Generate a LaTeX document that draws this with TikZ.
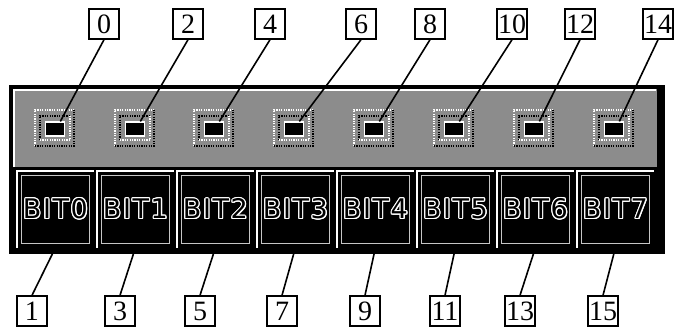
\documentclass[tikz,border=0pt]{standalone}
\usepackage{fontspec}
\usepackage{xcolor}
\usepackage{tikz}
\usepackage{contour}
\usetikzlibrary{arrows.meta}
\setmainfont{Liberation Serif}
\newfontfamily\Bitschrift[LetterSpace=6]{DejaVu Sans}
\contourlength{0.55pt}
\definecolor{feldgrau}{gray}{0.55}
\tikzset{
  kasten/.style={draw,line width=0.7pt,inner sep=0.5pt,minimum width=15pt,minimum height=15pt,font=\fontsize{14}{14}\selectfont},
  zeiger/.style={line width=0.8pt},
  punkte/.style={line width=1pt,dash pattern=on 0.6pt off 0.6pt},
  lampe/.style={draw=white,fill=black,line width=0.6pt,minimum width=9.5pt,minimum height=7pt,inner sep=0pt},
  taste/.style={fill=black,text=black,minimum width=38pt,minimum height=38pt,inner sep=0pt,font=\Bitschrift\fontsize{13.5}{13.5}\selectfont}
}
% Leuchtfeld: #1 Name, #2 Mitte x
\newcommand{\Leuchte}[2]{%
  \draw[punkte,white] (#2-20,146) -- (#2-20,110) -- (#2+19,110);
  \draw[punkte,black] (#2-20,146) -- (#2+19,146) -- (#2+19,110);
  \draw[punkte,black] (#2-15,140) -- (#2-15,116) -- (#2+15,116);
  \draw[punkte,white] (#2-15,140) -- (#2+15,140) -- (#2+15,116);
  \node[lampe] (#1) at (#2,129) {};}
% Taste: #1 Name, #2 linker Rand, #3 Text
\newcommand{\Taste}[3]{%
  \node[taste,anchor=north west] (#1) at (#2,171) {\contour{white}{#3}};
  \draw[white,line width=1pt] (#1.south west) -- (#1.north west) -- (#1.north east);
  \draw[gray!45,line width=0.5pt] ([shift={(2pt,-2pt)}]#1.north west) rectangle ([shift={(-2pt,2pt)}]#1.south east);}

\begin{document}
\begin{tikzpicture}[>=Latex,x=0.5pt,y=-0.5pt]
  \useasboundingbox (0,0) rectangle (674,329);
  % Gehaeuse
  \fill[black] (9,85) rectangle (665,254);
  \fill[feldgrau] (13,89) rectangle (657,167);
  \draw[white,line width=1pt] (13.5,167) -- (13.5,89.5) -- (656,89.5);
  % obere Reihe: Leuchtfelder
  \Leuchte{led0}{55}
  \Leuchte{led1}{135}
  \Leuchte{led2}{214}
  \Leuchte{led3}{294}
  \Leuchte{led4}{374}
  \Leuchte{led5}{454}
  \Leuchte{led6}{534}
  \Leuchte{led7}{614}
  % untere Reihe: Tasten
  \Taste{bit0}{17}{BIT0}
  \Taste{bit1}{97}{BIT1}
  \Taste{bit2}{177}{BIT2}
  \Taste{bit3}{257}{BIT3}
  \Taste{bit4}{337}{BIT4}
  \Taste{bit5}{417}{BIT5}
  \Taste{bit6}{497}{BIT6}
  \Taste{bit7}{577}{BIT7}
  % Nummern oben
  \node[kasten] (n0) at (104,24) {0};
  \node[kasten] (n2) at (188,24) {2};
  \node[kasten] (n4) at (270,24) {4};
  \node[kasten] (n6) at (361,24) {6};
  \node[kasten] (n8) at (430,24) {8};
  \node[kasten] (n10) at (512,24) {10};
  \node[kasten] (n12) at (580,24) {12};
  \node[kasten] (n14) at (658,24) {14};
  % Nummern unten
  \node[kasten] (n1) at (32,311) {1};
  \node[kasten] (n3) at (120,311) {3};
  \node[kasten] (n5) at (200,311) {5};
  \node[kasten] (n7) at (282,311) {7};
  \node[kasten] (n9) at (365,311) {9};
  \node[kasten] (n11) at (445,311) {11};
  \node[kasten] (n13) at (520,311) {13};
  \node[kasten] (n15) at (603,311) {15};
  % Zeiger
  \draw[zeiger] (n0.south) -- (led0.55);
  \draw[zeiger] (n2.south) -- (led1.55);
  \draw[zeiger] (n4.south) -- (led2.55);
  \draw[zeiger] (n6.south) -- (led3.55);
  \draw[zeiger] (n8.south) -- (led4.55);
  \draw[zeiger] (n10.south) -- (led5.55);
  \draw[zeiger] (n12.south) -- (led6.55);
  \draw[zeiger] (n14.south) -- (led7.55);
  \draw[zeiger] (bit0.south) -- (n1.north);
  \draw[zeiger] (bit1.south) -- (n3.north);
  \draw[zeiger] (bit2.south) -- (n5.north);
  \draw[zeiger] (bit3.south) -- (n7.north);
  \draw[zeiger] (bit4.south) -- (n9.north);
  \draw[zeiger] (bit5.south) -- (n11.north);
  \draw[zeiger] (bit6.south) -- (n13.north);
  \draw[zeiger] (bit7.south) -- (n15.north);
\end{tikzpicture}
\end{document}
